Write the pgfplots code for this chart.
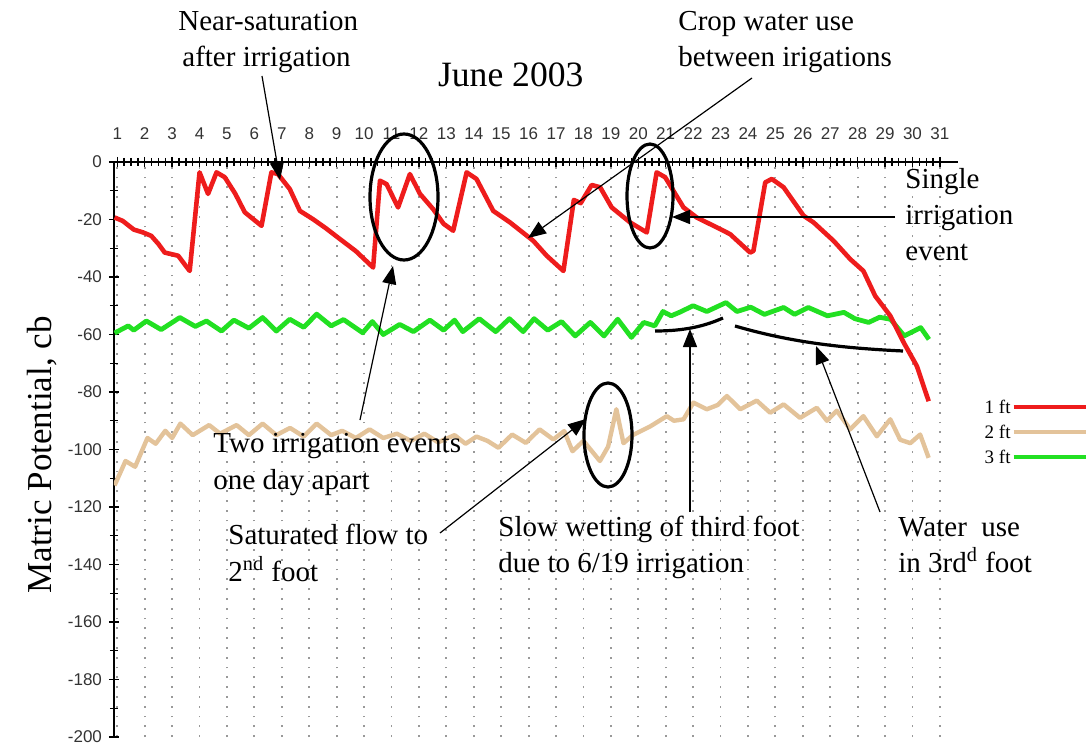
\documentclass[border=0pt]{standalone}
\usepackage{pgfplots}
\pgfplotsset{compat=1.18}
\usepackage{pgfplotstable}
\usepackage{fontspec}
\setmainfont{Liberation Serif}
\setsansfont{Liberation Sans}
\usetikzlibrary{arrows.meta}
\definecolor{cred}{HTML}{EE1C1C}
\definecolor{ctan}{HTML}{E3C39A}
\definecolor{cgreen}{HTML}{22E022}

\pgfplotstableread{
d v
0.9 -19.3
1.2 -20.5
1.6 -23.5
1.94 -24.5
2.24 -25.7
2.5 -28.5
2.73 -31.5
3.22 -32.6
3.64 -37.9
4.0 -3.6
4.31 -11.1
4.62 -3.6
4.92 -5.3
5.3 -11
5.65 -17.5
6.26 -22.2
6.62 -3.6
6.86 -4.2
7.29 -9.4
7.66 -17
8.14 -19.9
8.6 -23
9.12 -26.8
9.7 -31
10.33 -36.7
10.58 -6.5
10.82 -7.7
11.24 -15.8
11.67 -4.2
12.04 -11.1
12.52 -16.4
12.9 -21.5
13.25 -23.9
13.74 -3.6
14.1 -5.9
14.71 -17
15.32 -21
16.17 -27.4
16.66 -32.6
17.27 -37.9
17.65 -13.2
17.9 -14.3
18.3 -8
18.61 -8.8
19.03 -15.8
19.7 -21
20.31 -24.5
20.67 -3.6
20.98 -5.3
21.65 -15.8
22.13 -19.3
22.98 -23.3
23.35 -25.1
24.08 -31.5
24.2 -30.9
24.63 -7.1
24.87 -5.9
25.3 -8.8
26.03 -18.7
26.39 -21
27.12 -27.4
27.73 -33.8
28.21 -37.9
28.64 -46.6
29.19 -53.5
29.68 -62.8
30.16 -71
30.59 -83.2
}\onefoot

\pgfplotstableread{
d v
0.9 -112.5
1.3 -104
1.65 -106
2.1 -96
2.4 -98
2.75 -93.5
3.0 -96
3.3 -91
3.75 -95
4.35 -91.5
4.75 -94.5
5.35 -91.5
5.8 -95
6.3 -91
6.8 -95
7.3 -92.5
7.8 -95.5
8.27 -91
8.8 -95
9.2 -93.5
9.7 -96
10.2 -93
10.7 -96
11.2 -94.5
11.7 -97
12.2 -94.5
12.7 -97.5
13.3 -95
13.7 -98
14.1 -95.5
14.5 -97
14.9 -99.4
15.4 -94.8
15.9 -97.7
16.4 -93
16.9 -96.5
17.3 -93.6
17.6 -100.6
18.0 -97
18.6 -104
18.9 -99
19.2 -86
19.46 -97.8
19.8 -95
20.43 -92
21.04 -88.4
21.3 -90
21.65 -89.5
22.01 -83.7
22.5 -86
22.9 -84.5
23.23 -81.4
23.72 -86
24.32 -83
24.81 -87.2
25.3 -84.3
25.9 -89
26.51 -85.5
26.88 -90
27.24 -86.5
27.73 -93
28.21 -88.4
28.7 -95.4
29.19 -89.5
29.55 -96.6
29.92 -97.8
30.28 -94.8
30.59 -102.9
}\twofoot

\pgfplotstableread{
d v
0.9 -59.5
1.4 -57
1.6 -58.5
2.06 -55.3
2.6 -58.3
3.28 -54.1
3.85 -57.2
4.25 -55.3
4.8 -58.8
5.25 -55
5.8 -57.8
6.3 -54.1
6.8 -58.8
7.29 -54.7
7.8 -57.5
8.27 -52.9
8.8 -57.0
9.25 -54.8
9.95 -59.4
10.3 -55.5
10.7 -60
11.3 -56.5
11.8 -59
12.4 -55
12.9 -58.5
13.3 -55
13.6 -59
14.2 -54.5
14.8 -59
15.3 -54.5
15.8 -59
16.2 -54.5
16.7 -58.5
17.2 -55.5
17.7 -60.5
18.25 -55.8
18.75 -60.5
19.25 -54.7
19.75 -61
20.2 -55.8
20.6 -57
20.9 -52
21.2 -53.5
21.5 -52.3
22.0 -50
22.5 -52
23.2 -48.9
23.6 -52
24.1 -50.5
24.6 -53
25.3 -50.6
25.7 -53
26.2 -50.6
26.9 -53.5
27.5 -52.3
27.9 -54.5
28.4 -55.8
28.8 -54
29.2 -54.7
29.7 -60.5
30.3 -57.6
30.6 -61.7
}\threefoot

\begin{document}
\begin{tikzpicture}
\begin{scope}[x=0.5pt,y=-0.5pt]
\useasboundingbox (0,0) rectangle (1092,748);
\end{scope}
\begin{axis}[
  at={(57pt,-81pt)}, anchor=north west,
  width=422pt, height=287.5pt, scale only axis,
  xmin=0.88, xmax=31.66, ymin=-200, ymax=0,
  axis x line*=top, axis y line*=left,
  axis line style={black, line width=0.8pt},
  xtick={1,2,...,31}, minor x tick num=3,
  ytick={-200,-180,-160,-140,-120,-100,-80,-60,-40,-20,0},
  yticklabels={-200,-180,-160,-140,-120,-100,-80,-60,-40,-20,0},
  minor y tick num=1,
  tick align=center,
  major tick length=5pt, minor tick length=4pt,
  tick style={black, line width=0.7pt},
  /pgf/number format/assume math mode=true,
  tick label style={font=\sffamily\fontsize{8.5}{10}\selectfont, text=black!80},
  xticklabel style={yshift=5pt},
  xmajorgrids,
  major grid style={gray!80, line width=0.9pt, dash pattern=on 0.9pt off 4pt},
  legend plot pos=right,
  reverse legend,
  legend style={at={(axis description cs:1.03,0.589)}, anchor=north west,
    draw=none, fill=none, inner sep=0pt, row sep=4pt,
    font=\fontsize{9.5}{10}\selectfont,
    nodes={inner sep=0.5pt, text height=7pt, text depth=0.5pt}},
  legend image code/.code={\draw[#1, line width=2pt] (-9pt,0pt) -- (27pt,0pt);},
]
\addplot[cgreen, line width=2.4pt, line join=round] table[x=d,y=v] {\threefoot};
\addplot[ctan, line width=2.2pt, line join=round] table[x=d,y=v] {\twofoot};
\addplot[cred, line width=2.3pt, line join=round] table[x=d,y=v] {\onefoot};
\legend{3 ft,2 ft,1 ft}
\end{axis}

\begin{scope}[x=0.5pt,y=-0.5pt]
% y label and title
\node[rotate=90, font=\fontsize{17.5}{20}\selectfont] at (42,455) {Matric Potential, cb};
\node[anchor=base west, font=\fontsize{17.8}{20}\selectfont] at (431,87) {June 2003};

% annotation texts
\begin{scope}[every node/.style={anchor=base west, font=\fontsize{14.5}{18}\selectfont, inner sep=0pt}]
\node at (178,31) {Near-saturation};
\node at (182,67) {after irrigation};
\node at (678,31) {Crop water use};
\node at (678,67) {between irigations};
\node at (905,189) {Single};
\node at (905,225) {irrigation};
\node at (905,261) {event};
\node at (213,452) {Two irrigation events};
\node at (213,489) {one day apart};
\node at (228,544) {Saturated flow to};
\node at (228,581) {2\textsuperscript{nd} foot};
\node at (498,536) {Slow wetting of third foot};
\node at (498,572) {due to 6/19 irrigation};
\node at (898,536) {Water\enspace use};
\node at (898,572) {in 3rd\textsuperscript{d} foot};
\end{scope}

% arrows
\begin{scope}[line width=0.6pt, -{Triangle[length=9pt,width=7pt]}]
\draw (262,76) -- (280,180);
\draw (752,78) -- (528,238);
\draw (895,217) -- (672,217);
\draw (360,420) -- (393,266);
\draw (440,533) -- (586,419);
\draw (690,512) -- (690,329);
\draw (880,512) -- (816,346);
\end{scope}

% ellipses
\draw[line width=1.6pt] (404,197) ellipse [x radius=17pt, y radius=31.5pt];
\draw[line width=1.6pt] (650,196) ellipse [x radius=11.5pt, y radius=26pt];
\draw[line width=1.6pt] (608,435) ellipse [x radius=12pt, y radius=26pt];

% drawn curves
\draw[line width=1.6pt] (655,331) .. controls (685,331) and (705,326) .. (723,318);
\draw[line width=1.6pt] (735,326) .. controls (790,342) and (840,348) .. (903,351);
\end{scope}
\end{tikzpicture}
\end{document}
